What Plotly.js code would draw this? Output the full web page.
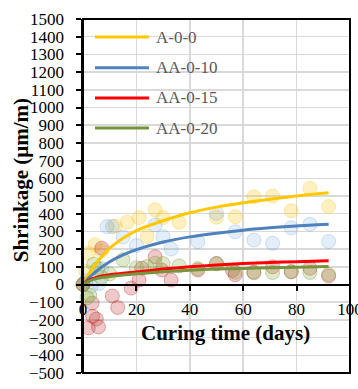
<!DOCTYPE html>
<html>
<head>
<meta charset="utf-8">
<script src="https://cdn.plot.ly/plotly-3.0.1.min.js"></script>
<style>html,body{margin:0;padding:0;background:#fff;}#chart{width:358px;height:389px;}</style>
</head>
<body>
<div id="chart"></div>
<script>
// Series names
const names = ["A-0-0", "AA-0-10", "AA-0-15", "AA-0-20"];

// Measured points (days, shrinkage µm/m)
const daysA = [0, 1, 2, 4.5, 7, 12, 16.5, 21, 24, 27, 30, 36, 50, 57, 64, 71, 78, 85, 92];
const shrA  = [0, 75, 176, 225, 190, 330, 352, 378, 272, 422, 378, 352, 380, 383, 496, 500, 417, 543, 440];

const daysB = [0, 1, 3, 6, 7, 9, 11, 15, 20, 27, 30, 33, 43, 50, 57, 64, 71, 78, 85, 92];
const shrB  = [0, 20, -10, 5, 90, 327, 327, 268, 220, 336, 270, 200, 242, 402, 298, 251, 233, 320, 340, 243];

const daysC = [0, 2, 3.4, 3.6, 5, 5.8, 7, 11, 13, 18, 21, 22, 27, 29.5, 33, 43, 50, 56, 57, 64, 71, 78, 85, 92];
const shrC  = [0, -245, -105, -180, -195, -240, 205, -65, -130, -20, 25, 92, 157, 82, 25, 82, 118, 80, 55, 70, 100, 72, 92, 48];

const daysD = [0, 1.5, 2.5, 4, 5.5, 7, 10, 15, 20, 24, 27, 30, 36, 43, 50, 57, 64, 71, 78, 85, 92];
const shrD  = [0, -75, -60, 115, 90, 40, 60, 140, 95, 101, 120, 118, 105, 90, 118, 70, 66, 68, 72, 68, 57];

// Fitted trend curves
const fitDays = [0, 2, 5, 10, 15, 20, 30, 40, 50, 60, 70, 80, 92];
const fitA = [0, 55, 120, 205, 262, 305, 360, 405, 437, 462, 482, 500, 518];
const fitB = [0, 34, 75, 128, 167, 197, 240, 269, 290, 307, 320, 331, 340];
const fitC = [0, 22, 40, 55, 63, 71, 87, 100, 110, 118, 124, 129, 134];
const fitD = [0, 18, 33, 45, 54, 61, 72, 81, 87, 91, 95, 98, 101];

const xTicks = [0, 20, 40, 60, 80, 100];

const pointDays = [daysA, daysB, daysC, daysD];
const pointVals = [shrA, shrB, shrC, shrD];
const fitVals = [fitA, fitB, fitC, fitD];

const markerFill = ['rgba(255,192,0,0.24)', 'rgba(91,155,213,0.17)', 'rgba(192,60,60,0.28)', 'rgba(140,180,70,0.28)'];
const markerEdge = ['rgba(255,192,0,0.32)', 'rgba(91,155,213,0.28)', 'rgba(192,0,0,0.30)', 'rgba(119,147,60,0.38)'];
const lineColors = ['#FFC800', '#4F81BD', '#FF0000', '#77933C'];

const serif = 'Liberation Serif, Times New Roman, serif';
const traces = [];
for (let i = 0; i < 4; i++) {
  traces.push({
    x: pointDays[i], y: pointVals[i], type: 'scatter', mode: 'markers',
    marker: {size: 14, color: markerFill[i], line: {color: markerEdge[i], width: 1}},
    showlegend: false, cliponaxis: false, hoverinfo: 'skip'
  });
}
for (let i = 0; i < 4; i++) {
  traces.push({
    x: fitDays, y: fitVals[i], type: 'scatter', mode: 'lines', name: names[i],
    line: {color: lineColors[i], width: 3, shape: 'spline', smoothing: 0.8},
    showlegend: false
  });
}

// Manual legend
const legY = [0.949, 0.862, 0.777, 0.692];
const shapes = [
  {type: 'rect', xref: 'paper', yref: 'paper', x0: 0, x1: 1, y0: 0, y1: 1, line: {color: '#000', width: 2}, layer: 'above'}
];
const annotations = [];
for (let i = 0; i < 4; i++) {
  shapes.push({type: 'line', xref: 'paper', yref: 'paper', x0: 0.045, x1: 0.247, y0: legY[i], y1: legY[i],
    line: {color: lineColors[i], width: 3}});
  annotations.push({xref: 'paper', yref: 'paper', x: 0.266, y: legY[i], xanchor: 'left', yanchor: 'middle',
    text: names[i], showarrow: false, font: {family: serif, size: 17, color: '#595959'}});
}
annotations.push({xref: 'paper', yref: 'paper', x: 0.532, y: 0.113, xanchor: 'center', yanchor: 'middle',
  text: '<b>Curing time (days)</b>', showarrow: false, font: {family: serif, size: 21, color: '#000'}});
annotations.push({xref: 'paper', yref: 'paper', x: -0.232, y: 0.545, xanchor: 'center', yanchor: 'middle', textangle: -90,
  text: '<b>Shrinkage (μm/m)</b>', showarrow: false, font: {family: serif, size: 21, color: '#000'}});

const layout = {
  width: 358, height: 389,
  margin: {l: 83, r: 8, t: 19, b: 16},
  paper_bgcolor: '#fff', plot_bgcolor: '#fff',
  showlegend: false,
  font: {family: serif, size: 17, color: '#000'},
  xaxis: {
    range: [0, 100], tickvals: xTicks, ticktext: xTicks.map(String),
    anchor: 'free', position: 0.25,
    showgrid: true, gridcolor: '#d9d9d9', gridwidth: 1.5,
    zeroline: false, showline: true, linecolor: '#000', linewidth: 2,
    ticks: 'outside', ticklen: 5, tickwidth: 2, tickcolor: '#000',
    tickfont: {family: serif, size: 17, color: '#000'}, ticklabelstandoff: 4,
    ticklabeloverflow: 'allow'
  },
  yaxis: {
    range: [-500, 1500], dtick: 100, tick0: 0,
    showgrid: true, gridcolor: '#d9d9d9', gridwidth: 1.5,
    zeroline: false, showline: true, linecolor: '#000', linewidth: 2.5,
    ticks: 'outside', ticklen: 5, tickwidth: 2, tickcolor: '#000',
    tickfont: {family: serif, size: 17, color: '#000'}, ticklabelstandoff: 8
  },
  shapes: shapes,
  annotations: annotations
};

Plotly.newPlot('chart', traces, layout, {displayModeBar: false, staticPlot: true});
</script>
</body>
</html>
